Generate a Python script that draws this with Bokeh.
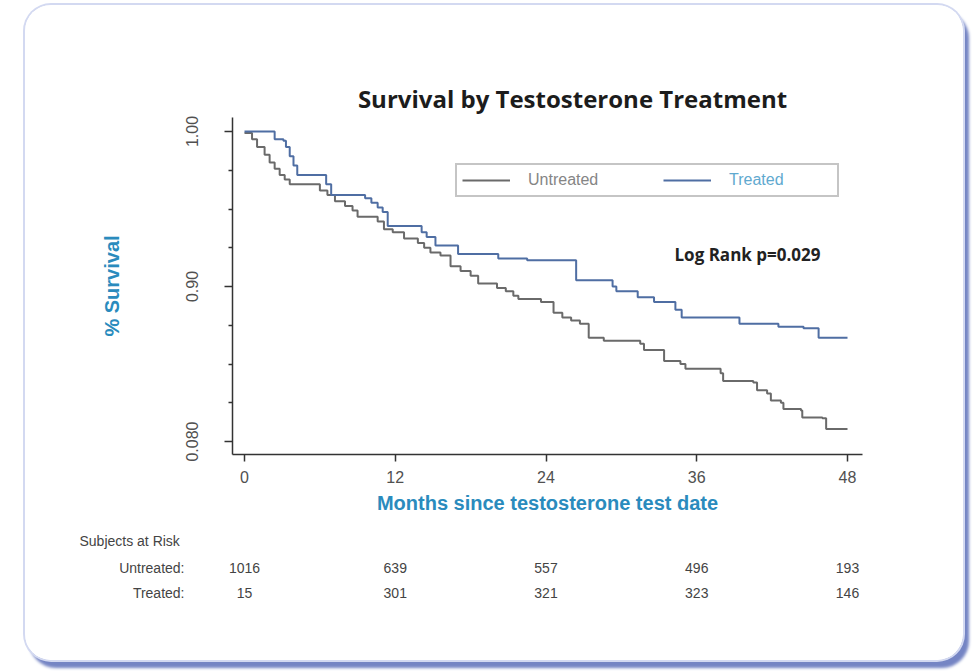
from bokeh.plotting import figure
from bokeh.models import (Range1d, FixedTicker, Label, LabelSet, Legend, LegendItem,
                          ColumnDataSource)
from bokeh.core.properties import value
from bokeh.embed import file_html
from bokeh.resources import INLINE

# ---------------- data ----------------
untreated_t = [0, 0.6, 1.0, 1.6, 2.0, 2.4, 2.8, 3.2, 3.6, 6.0, 6.6, 7.2, 8.0, 8.6, 9.0,
               10.6, 11.1, 11.8, 12.7, 13.8, 14.3, 14.8, 15.6, 16.4, 17.2, 18.0, 18.6,
               20.1, 20.8, 21.4, 21.8, 23.6, 24.6, 25.3, 26.0, 26.7, 27.4, 28.6, 31.5,
               31.8, 33.4, 34.7, 35.1, 37.9, 38.1, 40.5, 40.8, 41.6, 41.9, 42.7, 42.9,
               44.3, 44.4, 46.0, 46.3, 48.0]
untreated_s = [0.999, 0.995, 0.990, 0.985, 0.980, 0.976, 0.972, 0.969, 0.966, 0.962, 0.959,
               0.955, 0.952, 0.949, 0.945, 0.942, 0.937, 0.935, 0.931, 0.928, 0.925, 0.922,
               0.920, 0.913, 0.910, 0.907, 0.902, 0.899, 0.897, 0.894, 0.892, 0.890, 0.883,
               0.880, 0.878, 0.876, 0.867, 0.865, 0.863, 0.859, 0.852, 0.850, 0.847, 0.844,
               0.839, 0.838, 0.833, 0.831, 0.8265, 0.825, 0.821, 0.820, 0.8155, 0.815,
               0.808, 0.808]

treated_t = [0, 2.4, 3.1, 3.3, 3.6, 3.9, 4.2, 6.5, 6.9, 9.6, 10.1, 10.6, 11.0, 11.4,
             14.1, 14.5, 15.2, 17.0, 20.2, 22.5, 26.4, 29.3, 29.6, 31.3, 32.6, 34.3,
             34.8, 39.4, 42.5, 44.5, 45.7, 48.0]
treated_s = [1.000, 0.995, 0.994, 0.990, 0.984, 0.978, 0.972, 0.966, 0.959, 0.957, 0.954,
             0.951, 0.948, 0.939, 0.935, 0.932, 0.9265, 0.921, 0.918, 0.917, 0.904, 0.900,
             0.897, 0.893, 0.890, 0.885, 0.880, 0.876, 0.874, 0.873, 0.867, 0.867]

x_ticks = [0, 12, 24, 36, 48]
y_major = [0.80, 0.90, 1.00]
y_major_labels = ["0.080", "0.90", "1.00"]
y_minor = [0.825, 0.85, 0.875, 0.925, 0.95, 0.975]

risk_times = [0, 12, 24, 36, 48]
risk_untreated = [1016, 639, 557, 496, 193]
risk_treated = [15, 301, 321, 323, 146]

title_text = "Survival by Testosterone Treatment"
pvalue_text = "Log Rank p=0.029"
x_title = "Months since testosterone test date"
y_title = "% Survival"
risk_title = "Subjects at Risk"
series_names = ["Untreated", "Treated"]

# ---------------- layout ----------------
W, H = 938, 655                 # card size (the figure is the card)
X0_PX, PX_PER_MONTH = 219, 12.5625
Y1_PX, PX_PER_UNIT = 126, 1550.0
x_range = Range1d(-X0_PX / PX_PER_MONTH, (W - X0_PX) / PX_PER_MONTH)
y_range = Range1d(1 - (H - Y1_PX) / PX_PER_UNIT, 1 + Y1_PX / PX_PER_UNIT)
AXIS_X_AT = 0.79161            # y value where the x axis line sits
AXIS_Y_AT = -0.955             # x value where the y axis line sits
X_BOUNDS = (-0.955, 49.19)
Y_BOUNDS = (0.79161, 1.00903)

SANS = "Liberation Sans"
GRAY_LINE = "#6a6a6a"
BLUE_LINE = "#4f6ea3"
TITLE_BLUE = "#2a8bbd"
TICK_COL = "#505050"

p = figure(width=W, height=H, output_backend="svg", toolbar_location=None,
           x_range=x_range, y_range=y_range, title=None,
           min_border_left=0, min_border_right=0, min_border_top=0, min_border_bottom=0)
p.margin = (5, 0, 0, 25)
p.styles = {"border-radius": "26px",
            "box-shadow": "0 0 0 2px #d3d9f1, 5px 7px 3px 1px #7585c4",
            "overflow": "hidden"}
p.border_fill_color = "white"
p.background_fill_color = "white"
p.outline_line_color = None
p.xgrid.visible = False
p.ygrid.visible = False

# curves
r_u = p.step(untreated_t, untreated_s, mode="after", line_color=GRAY_LINE, line_width=2)
r_t = p.step(treated_t, treated_s, mode="after", line_color=BLUE_LINE, line_width=2)

# x axis
xa = p.xaxis[0]
xa.fixed_location = AXIS_X_AT
xa.bounds = X_BOUNDS
xa.ticker = FixedTicker(ticks=x_ticks, minor_ticks=[])
xa.axis_line_color = "#333333"
xa.axis_line_width = 1.5
xa.major_tick_line_color = "#333333"
xa.major_tick_line_width = 1.5
xa.major_tick_out = 7
xa.major_tick_in = 0
xa.major_label_text_font = SANS
xa.major_label_text_font_size = "16px"
xa.major_label_text_color = TICK_COL
xa.major_label_standoff = 9
xa.axis_label = x_title
xa.axis_label_text_font = SANS
xa.axis_label_text_font_style = "bold"
xa.axis_label_text_font_size = "20px"
xa.axis_label_text_color = TITLE_BLUE
xa.axis_label_standoff = 6

# y axis
ya = p.yaxis[0]
ya.fixed_location = AXIS_Y_AT
ya.bounds = Y_BOUNDS
ya.ticker = FixedTicker(ticks=y_major, minor_ticks=y_minor)
ya.major_label_overrides = {v: s for v, s in zip(y_major, y_major_labels)}
ya.axis_line_color = "#333333"
ya.axis_line_width = 1.5
ya.major_tick_line_color = "#333333"
ya.major_tick_line_width = 1.5
ya.minor_tick_line_color = "#333333"
ya.minor_tick_line_width = 1.5
ya.major_tick_out = 8
ya.major_tick_in = 0
ya.minor_tick_out = 4
ya.minor_tick_in = 0
ya.major_label_orientation = "vertical"
ya.major_label_text_font = SANS
ya.major_label_text_font_size = "16px"
ya.major_label_text_color = TICK_COL
ya.major_label_standoff = 27
ya.axis_label = y_title
ya.axis_label_text_font = SANS
ya.axis_label_text_font_style = "bold"
ya.axis_label_text_font_size = "20px"
ya.axis_label_text_color = TITLE_BLUE
ya.axis_label_standoff = 60

# legends (two, for per-item text colours)
leg_a = Legend(items=[LegendItem(label=series_names[0], renderers=[r_u])],
               location=(430, 463), orientation="horizontal", padding=5, margin=0,
               glyph_width=48, glyph_height=20, label_standoff=18, label_width=304,
               label_height=20, border_line_color="#8c8c8c", border_line_width=2,
               background_fill_color="white", background_fill_alpha=1.0,
               label_text_color="#858585", label_text_font=SANS,
               label_text_font_size="16px")
leg_b = Legend(items=[LegendItem(label=series_names[1], renderers=[r_t])],
               location=(638, 470), orientation="horizontal", padding=0, margin=0,
               glyph_width=48, glyph_height=20, label_standoff=18, label_width=60,
               label_height=20, border_line_color=None, background_fill_alpha=0.0,
               label_text_color="#5fa9cf", label_text_font=SANS,
               label_text_font_size="16px")
p.add_layout(leg_a)
p.add_layout(leg_b)

# title and p-value
p.add_layout(Label(x=547, y=562, x_units="screen", y_units="screen", text=title_text,
                   text_align="center", text_baseline="middle", text_font="Open Sans",
                   text_font_style="bold", text_font_size="24px", text_color="#1c1c1c"))
p.add_layout(Label(x=649, y=406, x_units="screen", y_units="screen", text=pvalue_text,
                   text_align="left", text_baseline="middle", text_font="Open Sans",
                   text_font_style="bold", text_font_size="17px", text_color="#222222"))

# at-risk table
p.add_layout(Label(x=54, y=120, x_units="screen", y_units="screen",
                   text=risk_title, text_align="left", text_baseline="middle",
                   text_font=SANS, text_font_size="14px", text_color="#444444"))
for name, ypos in zip(series_names, [93, 68]):
    p.add_layout(Label(x=159, y=ypos, x_units="screen", y_units="screen",
                       text=name + ":", text_align="right", text_baseline="middle",
                       text_font=SANS, text_font_size="14px", text_color="#444444"))

src_u = ColumnDataSource(dict(t=risk_times, n=[str(v) for v in risk_untreated]))
src_t = ColumnDataSource(dict(t=risk_times, n=[str(v) for v in risk_treated]))
for src, ypos in [(src_u, 93), (src_t, 68)]:
    p.add_layout(LabelSet(x="t", y=ypos, y_units="screen", text="n", source=src,
                          text_align="center", text_baseline="middle",
                          text_font=value(SANS), text_font_size="14px",
                          text_color="#444444"))

open("out.html", "w").write(file_html(p, INLINE))
